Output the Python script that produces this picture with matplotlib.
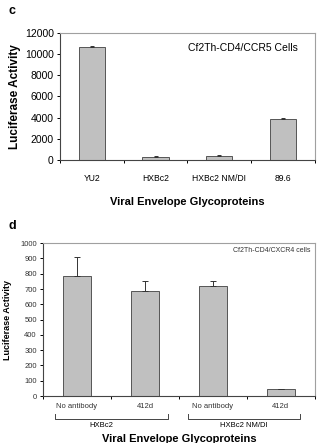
import matplotlib.pyplot as plt
import numpy as np

plt.rcParams['font.family'] = ['Liberation Sans', 'DejaVu Sans']

# panel c
c_labels = ["YU2", "HXBc2", "HXBc2 NM/DI", "89.6"]
c_values = [10650, 300, 400, 3900]
c_err = [90, 30, 60, 80]

# panel d
d_labels = ["No antibody", "412d", "No antibody", "412d"]
d_values = [785, 685, 722, 45]
d_err = [125, 65, 28, 0]
d_groups = ["HXBc2", "HXBc2 NM/DI"]
d_group_span = [(-0.32, 1.34), (1.63, 3.28)]
d_group_pos = [0.35, 2.46]

bar_col = '#c0c0c0'
edge_col = '#555555'
frame_col = '#a0a0a0'

fig = plt.figure(figsize=(3.19, 4.43), dpi=100)


def style_axes(ax):
    ax.spines['top'].set_color(frame_col)
    ax.spines['right'].set_color(frame_col)
    ax.spines['left'].set_color('#444444')
    ax.spines['bottom'].set_color('#444444')
    for s in ax.spines.values():
        s.set_linewidth(0.8)
    ax.tick_params(axis='y', direction='out', length=2.5, width=0.7, pad=2)
    ax.tick_params(axis='x', which='minor', direction='out', length=2.5, width=0.7)


# ---- panel c ----
ax1 = fig.add_axes([0.188, 0.639, 0.799, 0.287])
x = np.arange(len(c_labels))
ax1.bar(x, c_values, width=0.41, color=bar_col, edgecolor=edge_col, linewidth=0.7,
        yerr=[np.zeros(len(c_err)), c_err], error_kw=dict(ecolor='#333333', elinewidth=0.7, capsize=1.5, capthick=0.7))
ax1.set_xlim(-0.5, 3.5)
ax1.set_ylim(0, 12000)
ax1.set_yticks(np.arange(0, 12001, 2000))
ax1.set_xticks(x)
ax1.set_xticklabels(c_labels, fontsize=6.2)
ax1.set_xticks(np.arange(-0.5, 4, 1), minor=True)
ax1.tick_params(axis='y', labelsize=7.5)
style_axes(ax1)
ax1.tick_params(axis='x', which='major', length=0, pad=10)
ax1.set_ylabel("Luciferase Activity", fontsize=8.5, fontweight='bold', labelpad=3)
ax1.set_xlabel("Viral Envelope Glycoproteins", fontsize=8, fontweight='bold', labelpad=10)
ax1.text(0.933, 0.88, "Cf2Th-CD4/CCR5 Cells", transform=ax1.transAxes, ha='right', va='center', fontsize=7.5)
fig.text(0.028, 0.975, "c", fontsize=9, fontweight='bold', va='center')

# ---- panel d ----
ax2 = fig.add_axes([0.135, 0.106, 0.852, 0.345])
x2 = np.arange(len(d_labels))
ax2.bar(x2, d_values, width=0.41, color=bar_col, edgecolor=edge_col, linewidth=0.7,
        yerr=[np.zeros(len(d_err)), d_err], error_kw=dict(ecolor='#333333', elinewidth=0.7, capsize=2, capthick=0.7))
ax2.set_xlim(-0.5, 3.5)
ax2.set_ylim(0, 1000)
ax2.set_yticks(np.arange(0, 1001, 100))
ax2.set_xticks(x2)
ax2.set_xticklabels(d_labels, fontsize=5.5, color='#333333')
ax2.set_xticks(np.arange(-0.5, 4, 1), minor=True)
ax2.tick_params(axis='y', labelsize=5.5, labelcolor='#333333')
style_axes(ax2)
ax2.tick_params(axis='x', which='major', length=0, pad=5)
ax2.set_ylabel("Luciferase Activity", fontsize=6.5, fontweight='bold', labelpad=6)
ax2.set_xlabel("Viral Envelope Glycoproteins", fontsize=8, fontweight='bold', labelpad=17)
ax2.text(0.985, 0.955, "Cf2Th-CD4/CXCR4 cells", transform=ax2.transAxes, ha='right', va='center',
         fontsize=5, color='#333333')
fig.text(0.028, 0.49, "d", fontsize=9, fontweight='bold', va='center')

# group brackets below tick labels
trans = ax2.get_xaxis_transform()
for name, (x0, x1), xp in zip(d_groups, d_group_span, d_group_pos):
    yb = -0.15
    ax2.plot([x0, x0, x1, x1], [yb + 0.03, yb, yb, yb + 0.03], transform=trans,
             color='#444444', linewidth=0.7, clip_on=False)
    ax2.text(xp, yb - 0.02, name, transform=trans, ha='center', va='top', fontsize=5.5)

fig.savefig("out.png", dpi=100)
